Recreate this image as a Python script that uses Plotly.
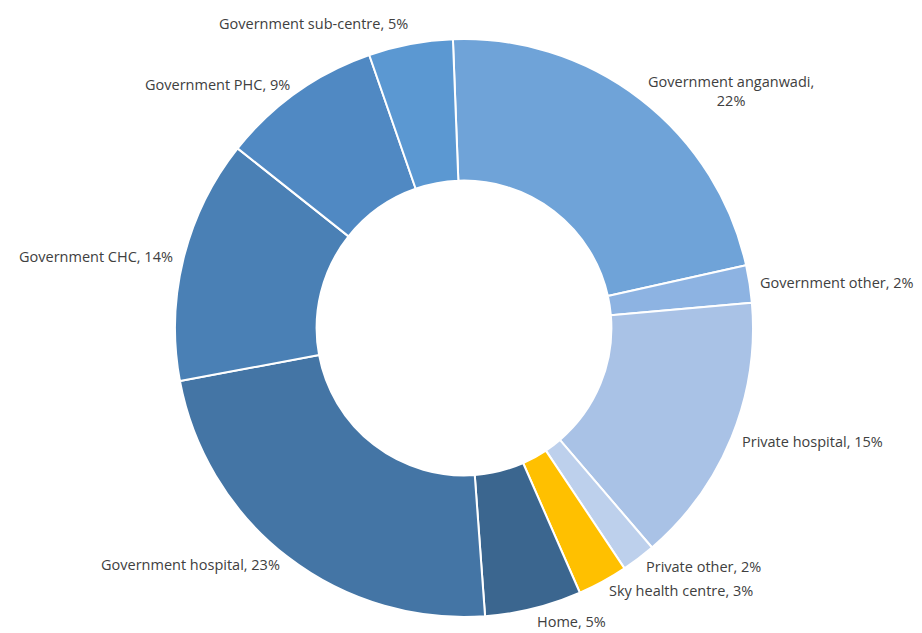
import math
import plotly.graph_objects as go

# ---- data ----
labels = ["Government anganwadi", "Government other", "Private hospital", "Private other",
          "Sky health centre", "Home", "Government hospital", "Government CHC",
          "Government PHC", "Government sub-centre"]
values = [22.1, 2.1, 15.1, 1.9, 2.8, 5.4, 23.2, 13.6, 9.0, 4.7]
pct_labels = ["22%", "2%", "15%", "2%", "3%", "5%", "23%", "14%", "9%", "5%"]
colors = ["#6FA3D8", "#8DB3E2", "#A9C2E6", "#BDD0EC", "#FFC000",
          "#3B668F", "#4475A5", "#4A80B5", "#5089C3", "#5B98D2"]

# ---- geometry / style ----
W, H = 922, 633
cx, cy, R = 464, 328, 289
rotation = -2.2
font_family = "Open Sans, Liberation Sans, sans-serif"
font_size = 14.5
text_color = "#404040"
wrapped = {"Government anganwadi"}

fig = go.Figure(go.Pie(
    labels=labels, values=values, sort=False, direction="clockwise",
    rotation=rotation, hole=0.51, textinfo="none", hoverinfo="label+percent",
    marker=dict(colors=colors, line=dict(color="white", width=2)),
    domain=dict(x=[(cx - R) / W, (cx + R) / W], y=[(H - cy - R) / H, (H - cy + R) / H]),
    showlegend=False,
))

total = sum(values)
start = rotation
gap = 10
line_h = font_size * 1.3
for lab, v, p in zip(labels, values, pct_labels):
    mid = start + 360 * v / total / 2
    start += 360 * v / total
    a = math.radians(mid)
    ux, uy = math.sin(a), -math.cos(a)
    if lab in wrapped:
        txt = f"{lab},<br>{p}"
        align = "center"
    else:
        txt = f"{lab}, {p}"
        align = "left"
    d = R + gap
    px, py = cx + d * ux, cy + d * uy
    xanchor = "left" if ux > 0 else "right"
    if uy > 0.9:
        # label below the ring: keep it inside the canvas
        yanchor = "bottom"
        py = min(py + line_h, H - 1)
    elif uy < -0.9:
        yanchor = "bottom"
    else:
        yanchor = "middle"
    fig.add_annotation(x=px / W, y=1 - py / H, xref="paper", yref="paper",
                       text=txt, showarrow=False, xanchor=xanchor, yanchor=yanchor,
                       align=align, borderpad=0,
                       font=dict(family=font_family, size=font_size, color=text_color))

fig.update_layout(width=W, height=H, margin=dict(l=0, r=0, t=0, b=0),
                  paper_bgcolor="white", plot_bgcolor="white")
fig.write_html("out.html")
